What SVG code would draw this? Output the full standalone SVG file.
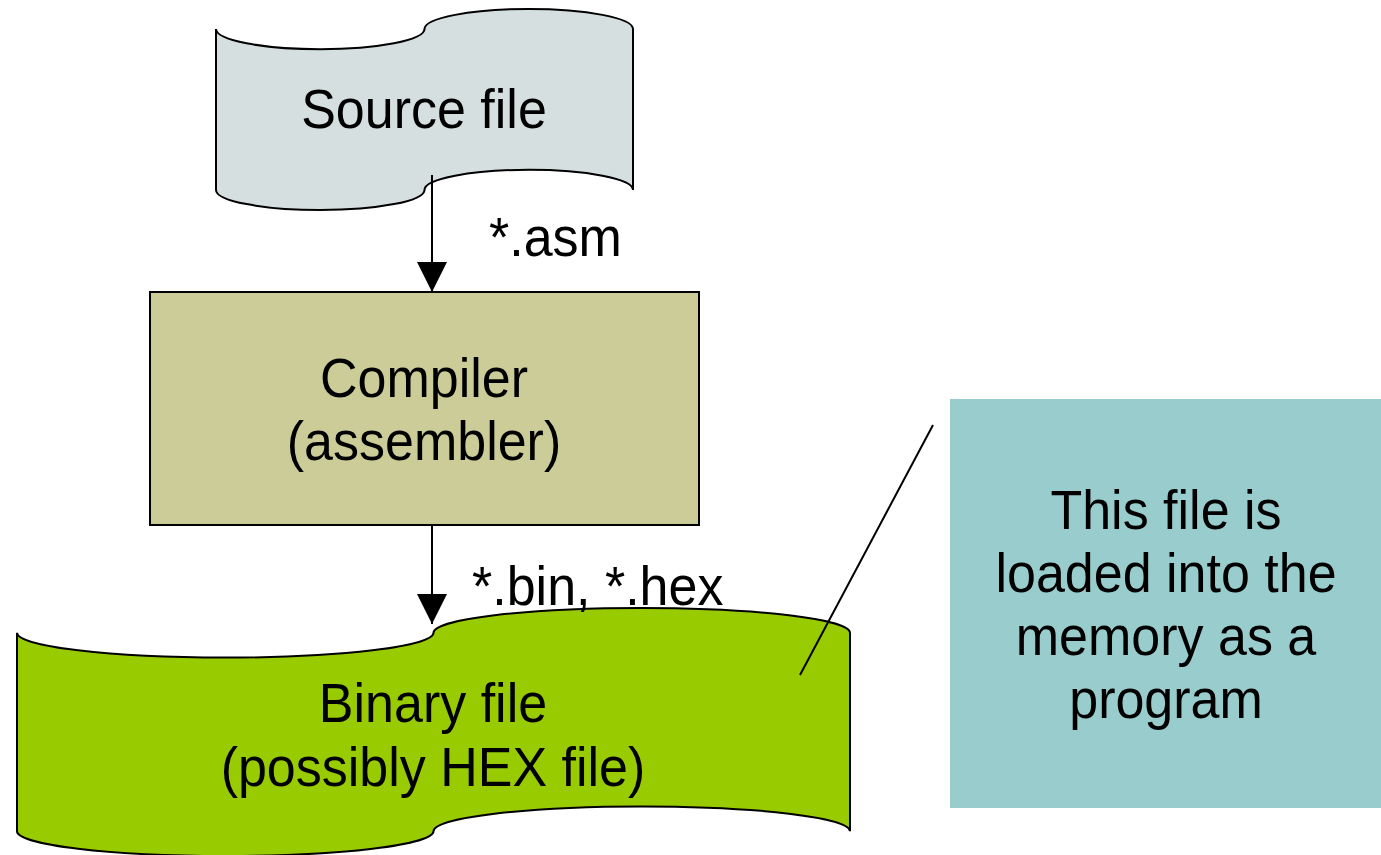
<svg xmlns="http://www.w3.org/2000/svg" width="1381" height="855" viewBox="0 0 1381 855">
  <style>
    .shape { stroke: #000; stroke-width: 2; }
    .lbl { font-family: "Liberation Sans", Arial, sans-serif; font-size: 52px; fill: #000; text-anchor: middle; }
    .wire { stroke: #000; stroke-width: 2; fill: none; }
  </style>
  <defs>
    <marker id="arrow" viewBox="0 0 30 30" refX="30" refY="15" markerWidth="30" markerHeight="30" markerUnits="userSpaceOnUse" orient="auto">
      <path d="M0,0 L30,15 L0,30 Z" fill="#000"/>
    </marker>
  </defs>
  <rect width="1381" height="855" fill="#fff"/>

  <!-- Source file (punched tape) -->
  <g id="source-file">
    <path class="shape" fill="#D6DFE0" d="M216,29.1 A104.25,20.1 0 0 0 424.5,29.1 A104.25,20.1 0 0 1 633,29.1 L633,189.9 A104.25,20.1 0 0 0 424.5,189.9 A104.25,20.1 0 0 1 216,189.9 Z"/>
    <text class="lbl" transform="translate(424 128) scale(1 1.08)">Source file</text>
  </g>

  <!-- Compiler -->
  <g id="compiler">
    <rect class="shape" x="150" y="292" width="549" height="233" fill="#CCCC99"/>
    <text class="lbl" transform="translate(424 397) scale(1 1.08)">Compiler</text>
    <text class="lbl" transform="translate(424 460) scale(1 1.08)">(assembler)</text>
  </g>

  <!-- Binary file (punched tape) -->
  <g id="binary-file">
    <path class="shape" fill="#99CC00" d="M17,632.8 A208.25,24.8 0 0 0 433.5,632.8 A208.25,24.8 0 0 1 850,632.8 L850,831.2 A208.25,24.8 0 0 0 433.5,831.2 A208.25,24.8 0 0 1 17,831.2 Z"/>
    <text class="lbl" transform="translate(433 722) scale(1 1.08)">Binary file</text>
    <text class="lbl" transform="translate(433 786) scale(1 1.08)">(possibly HEX file)</text>
  </g>

  <!-- Note -->
  <g id="note">
    <rect x="950" y="399" width="431" height="409" fill="#99CCCC"/>
    <text class="lbl" transform="translate(1166 529) scale(1 1.08)">This file is</text>
    <text class="lbl" transform="translate(1166 592) scale(1 1.08)">loaded into the</text>
    <text class="lbl" transform="translate(1166 655) scale(1 1.08)">memory as a</text>
    <text class="lbl" transform="translate(1166 718) scale(1 1.08)">program</text>
  </g>

  <!-- Connectors -->
  <g id="connectors">
    <line class="wire" x1="432" y1="175" x2="432" y2="292" marker-end="url(#arrow)"/>
    <line class="wire" x1="432" y1="525" x2="432" y2="624" marker-end="url(#arrow)"/>
    <line class="wire" x1="933" y1="425" x2="800" y2="675"/>
    <text class="lbl" text-anchor="start" transform="translate(489 256) scale(1 1.08)" style="text-anchor:start">*.asm</text>
    <text class="lbl" transform="translate(472 605) scale(1 1.08)" style="text-anchor:start">*.bin, *.hex</text>
  </g>
</svg>
